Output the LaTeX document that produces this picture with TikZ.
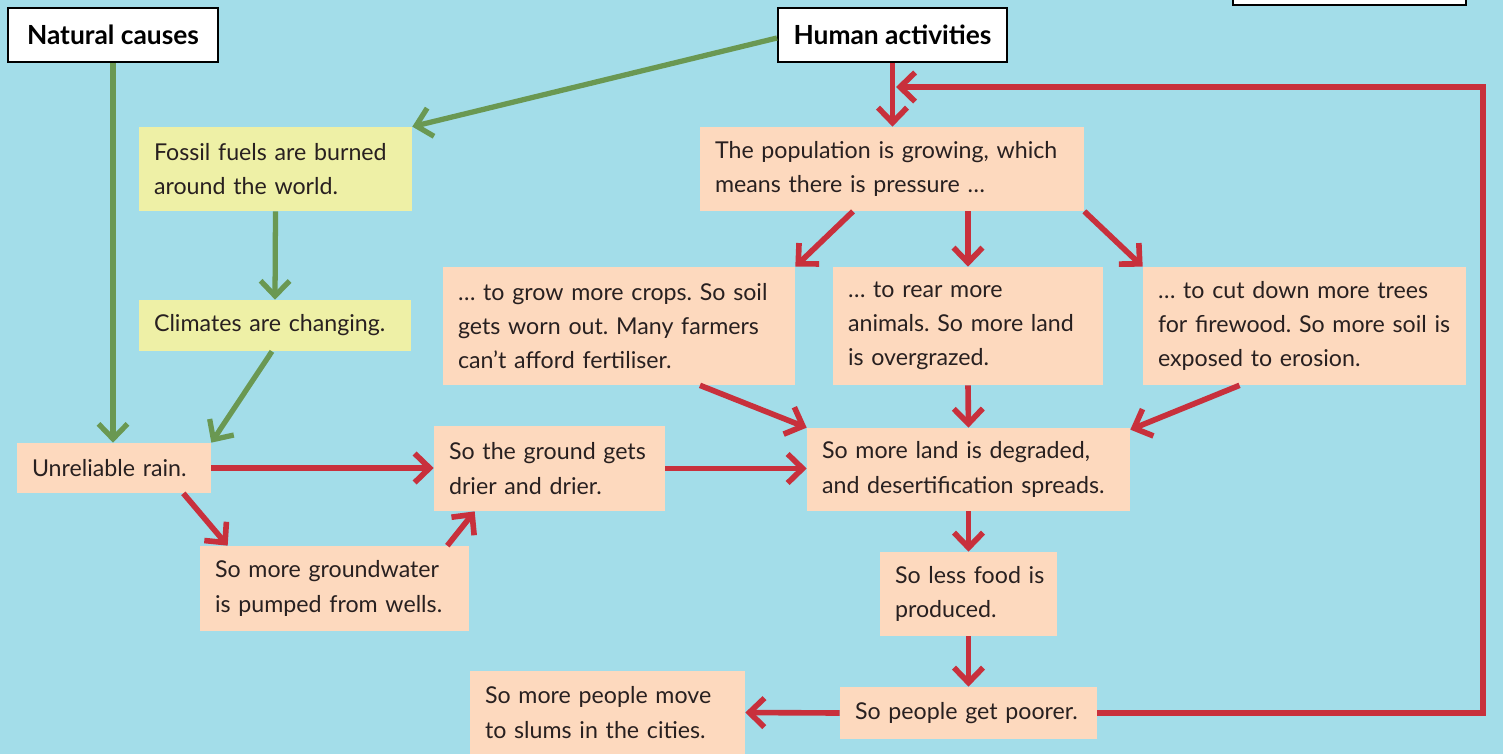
\documentclass[tikz,border=0pt]{standalone}
\usepackage{fontspec}
\setmainfont{Lato}
\usetikzlibrary{positioning,calc,arrows.meta}
\definecolor{skyblue}{RGB}{163,221,233}
\definecolor{peach}{RGB}{253,217,190}
\definecolor{paleyellow}{RGB}{238,240,166}
\definecolor{flowred}{RGB}{200,48,60}
\definecolor{flowgreen}{RGB}{106,152,82}
\definecolor{inkdark}{RGB}{40,32,32}
\frenchspacing

\begin{document}
\begin{tikzpicture}[
    x=0.02cm, y=-0.02cm,
    box/.style={rectangle, fill=peach, inner xsep=0.14cm, inner ysep=0pt, align=left, text=inkdark, font=\fontsize{13.2}{19.5}\selectfont, execute at begin node={\leftskip=0.16cm\relax}},
    ybox/.style={box, fill=paleyellow},
    title/.style={rectangle, draw=black, line width=1.2pt, fill=white, inner sep=0pt, font=\fontsize{15}{17}\selectfont\bfseries},
    redflow/.style={flowred, line width=3.2pt, -{Straight Barb[length=0.3cm, width=0.58cm]}},
    greenflow/.style={flowgreen, line width=3pt, -{Straight Barb[length=0.3cm, width=0.58cm]}}
]

% Background
\fill[skyblue] (0,0) rectangle (1503,754);
\useasboundingbox (0,0) rectangle (1503,754);

% Headings
\node[title, minimum width=4.2cm, minimum height=1.08cm] (natural) at (113,35) {Natural causes};
\node[title, minimum width=4.58cm, minimum height=1.08cm] (human) at (892.5,35) {Human activities};
\node[title, minimum width=4.66cm, minimum height=1.08cm] (corner) at (1349.5,-22) {};

% Climate chain
\node[ybox, text width=5.18cm, minimum height=1.68cm] (fossil) at (275.5,169) {Fossil fuels are burned\\around the world.};
\node[ybox, text width=5.16cm, minimum height=1.02cm] (climate) at (275,325.5) {Climates are changing.};

% Rain and ground
\node[box, text width=3.6cm, minimum height=1.0cm] (rain) at (114,468) {Unreliable rain.};
\node[box, text width=5.1cm, minimum height=1.7cm] (pumped) at (334.5,588.5) {So more groundwater\\is pumped from wells.};
\node[box, text width=4.34cm, minimum height=1.7cm] (drier) at (549.5,468.5) {So the ground gets\\drier and drier.};

% Population pressure
\node[box, text width=7.4cm, minimum height=1.68cm] (pop) at (892,169) {The population is growing, which\\means there is pressure \dots};
\node[box, text width=6.76cm, minimum height=2.36cm] (crops) at (619,326) {\dots\ to grow more crops. So soil\\gets worn out. Many farmers\\can't afford fertiliser.};
\node[box, text width=5.12cm, minimum height=2.36cm] (rear) at (968,326) {\dots\ to rear more\\animals. So more land\\is overgrazed.};
\node[box, text width=6.18cm, minimum height=2.36cm] (trees) at (1304.5,326) {\dots\ to cut down more trees\\for firewood. So more soil is\\exposed to erosion.};

% Consequences
\node[box, text width=6.18cm, minimum height=1.66cm] (degraded) at (968.5,469.5) {So more land is degraded,\\and desertification spreads.};
\node[box, text width=3.26cm, minimum height=1.68cm] (food) at (968.5,594) {So less food is\\produced.};
\node[box, text width=4.86cm, minimum height=1.04cm] (poorer) at (968.5,713) {So people get poorer.};
\node[box, text width=5.22cm, minimum height=1.66cm] (slums) at (607.5,712.5) {So more people move\\to slums in the cities.};

% Green arrows
\draw[greenflow] (natural.south) -- (natural.south |- rain.north);
\draw[greenflow] ([yshift=-0.06cm]human.west) -- (fossil.north east);
\draw[greenflow] (fossil.south) -- (climate.north);
\draw[greenflow] ([xshift=-0.06cm]climate.south) -- (rain.north east);

% Red arrows
\draw[redflow] (human.south) -- (human.south |- pop.north);
\draw[redflow] ([xshift=-0.78cm]pop.south) -- (crops.north east);
\draw[redflow] (rear.north |- pop.south) -- (rear.north);
\draw[redflow] (pop.south east) -- (trees.north west);
\draw[redflow] ([xshift=1.62cm]crops.south) -- (degraded.north west);
\draw[redflow] (rear.south) -- (degraded.north);
\draw[redflow] ([xshift=-1.3cm]trees.south) -- ([yshift=-0.04cm]degraded.north east);
\draw[redflow] (rain.east) -- (rain.east -| drier.west);
\draw[redflow] ([xshift=-0.56cm]rain.south east) -- ([xshift=0.56cm]pumped.north west);
\draw[redflow] ([xshift=-0.44cm]pumped.north east) -- ([xshift=0.82cm]drier.south west);
\draw[redflow] (drier.east) -- (drier.east -| degraded.west);
\draw[redflow] (degraded.south) -- (food.north);
\draw[redflow] (food.south) -- (poorer.north);
\draw[redflow] (poorer.west) -- (slums.east);

% Feedback loop
\coordinate (loop) at (1483,87);
\draw[redflow, line join=miter] (poorer.east) -| (loop) -- ([xshift=0.07cm]human.south |- loop);

\end{tikzpicture}
\end{document}
